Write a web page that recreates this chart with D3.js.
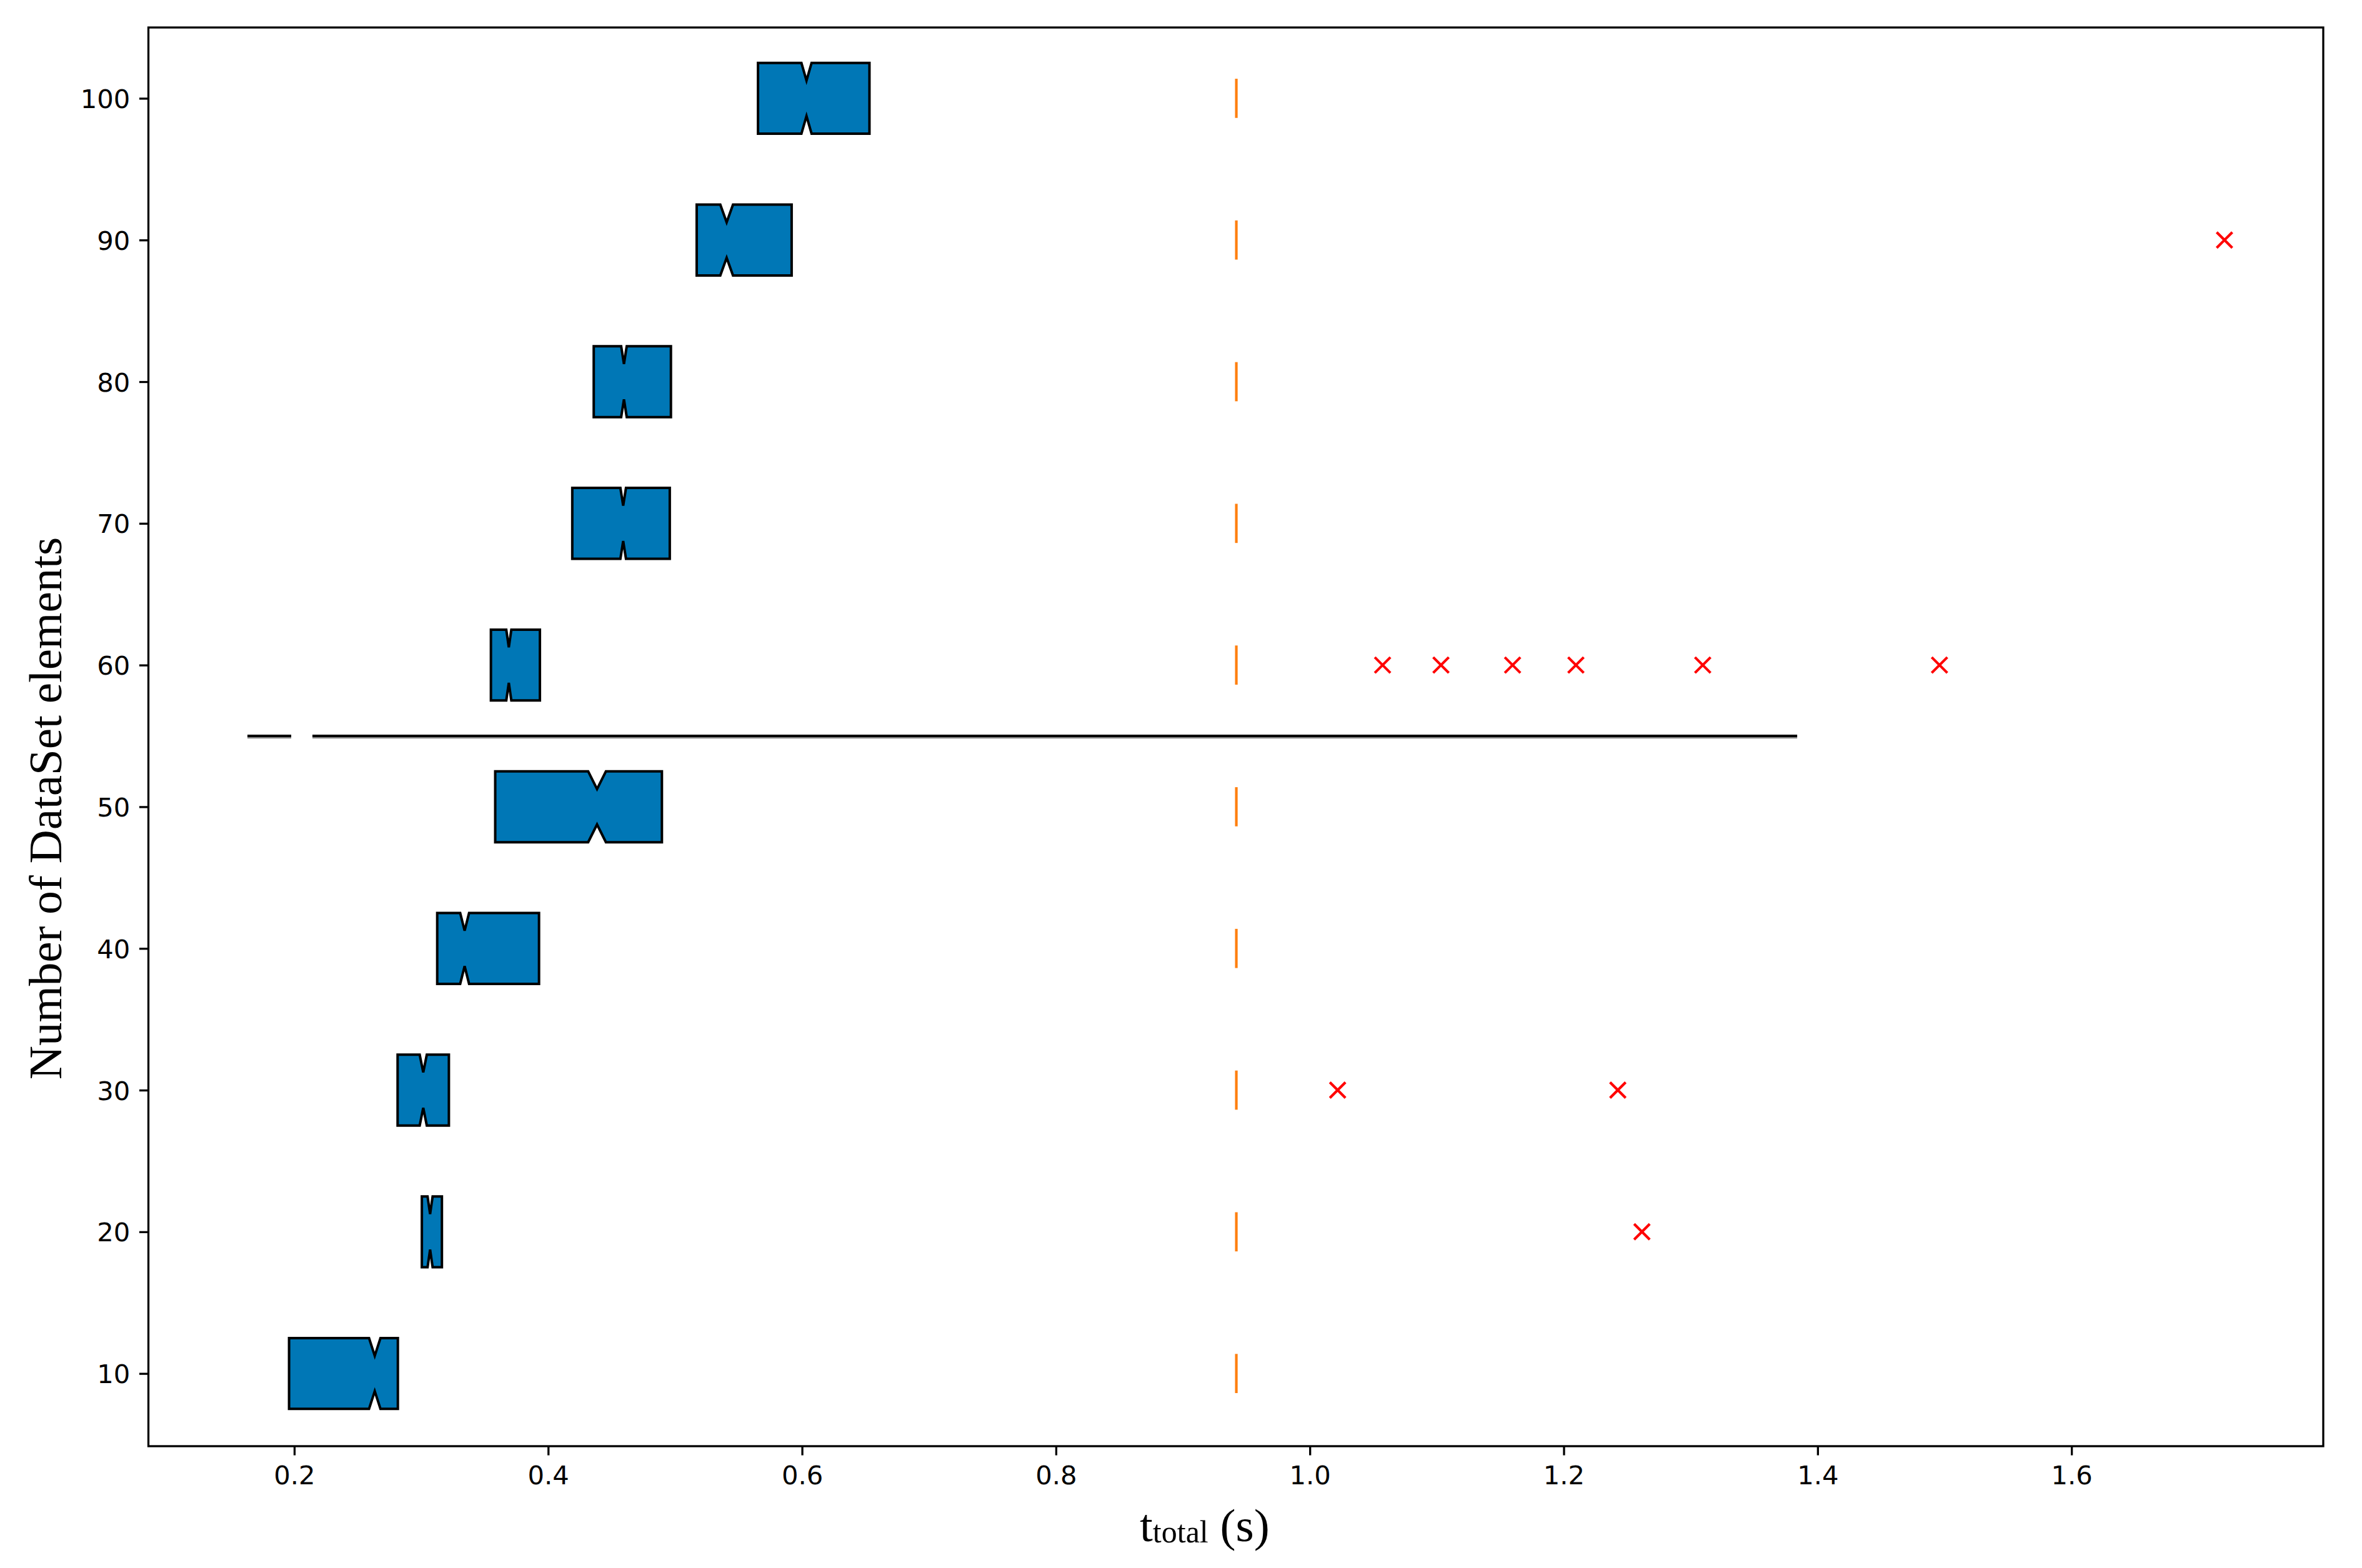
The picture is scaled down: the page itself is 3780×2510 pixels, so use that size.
<!DOCTYPE html>
<html>
<head>
<meta charset="utf-8">
<script src="https://cdn.jsdelivr.net/npm/d3@7"></script>
<style>
  html, body { margin: 0; padding: 0; background: #fff; }
  svg { display: block; }
</style>
</head>
<body>
<script>
// ---- data ----
const positions = [10, 20, 30, 40, 50, 60, 70, 80, 90, 100];
const q1Values  = [0.1959, 0.3005, 0.2814, 0.3126, 0.3583, 0.3549, 0.4190, 0.4359, 0.5170, 0.5653];
const medValues = [0.2634, 0.3070, 0.3016, 0.3342, 0.4385, 0.3690, 0.4591, 0.4597, 0.5406, 0.6035];
const q3Values  = [0.2816, 0.3163, 0.3218, 0.3928, 0.4896, 0.3935, 0.4958, 0.4967, 0.5918, 0.6531];
const notchHalf = [0.0045, 0.0020, 0.0028, 0.0035, 0.0070, 0.0020, 0.0022, 0.0022, 0.0050, 0.0040];
const medianLineX = [0.9421, 0.9421, 0.9421, 0.9421, 0.9421, 0.9421, 0.9421, 0.9421, 0.9421, 0.9421];

const outlierX = [1.2616, 1.0219, 1.2426, 1.0573, 1.1033, 1.1597, 1.2096, 1.3095, 1.4960, 1.7205];
const outlierY = [20, 30, 30, 60, 60, 60, 60, 60, 60, 90];

const hLineStart = [0.1631, 0.2143];
const hLineEnd   = [0.1976, 1.3839];
const hLineY     = [55, 55];

const xTicks = [0.2, 0.4, 0.6, 0.8, 1.0, 1.2, 1.4, 1.6];
const yTicks = [10, 20, 30, 40, 50, 60, 70, 80, 90, 100];
const boxWidth = 5;

// ---- layout ----
const W = 3780, H = 2510;
const plot = { left: 237.5, right: 3718, top: 44, bottom: 2315 };

const svg = d3.select("body").append("svg")
  .attr("width", W).attr("height", H)
  .attr("viewBox", `0 0 ${W} ${H}`);
svg.append("rect").attr("width", W).attr("height", H).attr("fill", "#fff");

const x = d3.scaleLinear().domain([0.0851, 1.7983]).range([plot.left, plot.right]);
const y = d3.scaleLinear().domain([4.87, 105.0]).range([plot.bottom, plot.top]);

const g = svg.append("g");

// horizontal line at 55
hLineStart.forEach((s, i) => {
  g.append("line")
    .attr("x1", x(s)).attr("x2", x(hLineEnd[i]))
    .attr("y1", y(hLineY[i]) + 3).attr("y2", y(hLineY[i]) + 3)
    .attr("stroke", "#8a8a8a").attr("stroke-width", 2.5);
  g.append("line")
    .attr("x1", x(s)).attr("x2", x(hLineEnd[i]))
    .attr("y1", y(hLineY[i])).attr("y2", y(hLineY[i]))
    .attr("stroke", "#000").attr("stroke-width", 4);
});

// boxes
const boxes = positions.map((p, i) => ({
  pos: p, q1: q1Values[i], med: medValues[i], q3: q3Values[i],
  cilo: medValues[i] - notchHalf[i], cihi: medValues[i] + notchHalf[i], mline: medianLineX[i]
}));

const lineGen = d3.line().x(d => x(d[0])).y(d => y(d[1]));
g.selectAll("path.box").data(boxes).join("path")
  .attr("class", "box")
  .attr("d", b => {
    const lo = b.pos - boxWidth / 2, hi = b.pos + boxWidth / 2;
    const clo = b.pos - boxWidth / 4, chi = b.pos + boxWidth / 4;
    const pts = [
      [b.q1, lo], [b.cilo, lo], [b.med, clo], [b.cihi, lo], [b.q3, lo],
      [b.q3, hi], [b.cihi, hi], [b.med, chi], [b.cilo, hi], [b.q1, hi]
    ];
    return lineGen(pts) + "Z";
  })
  .attr("fill", "#0077b6")
  .attr("stroke", "#000")
  .attr("stroke-width", 4)
  .attr("stroke-linejoin", "miter");

// median lines (orange)
g.selectAll("line.med").data(boxes).join("line")
  .attr("class", "med")
  .attr("x1", b => x(b.mline)).attr("x2", b => x(b.mline))
  .attr("y1", b => y(b.pos - boxWidth / 4) + 3).attr("y2", b => y(b.pos + boxWidth / 4) - 3)
  .attr("stroke", "#ff7f0e").attr("stroke-width", 4.2);

// outliers (red x)
const ms = 12.5;
const outG = g.selectAll("g.out").data(outlierX.map((v, i) => [v, outlierY[i]])).join("g")
  .attr("class", "out")
  .attr("transform", d => `translate(${x(d[0])},${y(d[1])})`);
outG.append("path")
  .attr("d", `M${-ms},${-ms}L${ms},${ms}M${-ms},${ms}L${ms},${-ms}`)
  .attr("stroke", "#ff0000").attr("stroke-width", 4.2).attr("fill", "none");

// axes
const xAxis = d3.axisBottom(x).tickValues(xTicks).tickFormat(d3.format(".1f"))
  .tickSize(14.6).tickPadding(14.6);
const yAxis = d3.axisLeft(y).tickValues(yTicks).tickFormat(d3.format("d"))
  .tickSize(14.6).tickPadding(14.6);

const gx = svg.append("g").attr("transform", `translate(0,${plot.bottom})`).call(xAxis);
const gy = svg.append("g").attr("transform", `translate(${plot.left},0)`).call(yAxis);
[gx, gy].forEach(a => {
  a.select(".domain").remove();
  a.selectAll(".tick line").attr("stroke", "#000").attr("stroke-width", 3.3);
  a.selectAll(".tick text")
    .attr("font-family", "'DejaVu Sans', sans-serif")
    .attr("font-size", 41.7)
    .attr("fill", "#000");
});
gx.selectAll(".tick text").attr("dy", null).attr("y", 61);
gy.selectAll(".tick text").attr("dy", "0.36em");

// frame
svg.append("rect")
  .attr("x", plot.left).attr("y", plot.top)
  .attr("width", plot.right - plot.left).attr("height", plot.bottom - plot.top)
  .attr("fill", "none").attr("stroke", "#000").attr("stroke-width", 3.3);

// axis labels
const xl = svg.append("text")
  .attr("x", 1824).attr("y", 2467)
  .attr("font-family", "'Liberation Serif', 'Times New Roman', serif")
  .attr("fill", "#000");
xl.append("tspan").attr("font-size", 75).text("t");
xl.append("tspan").attr("font-size", 50).attr("dy", 2).text("total");
xl.append("tspan").attr("font-size", 75).attr("dy", -2).text("\u00a0(s)");

svg.append("text")
  .attr("transform", "translate(98,1294) rotate(-90)")
  .attr("text-anchor", "middle")
  .attr("font-family", "'Liberation Serif', 'Times New Roman', serif")
  .attr("font-size", 75)
  .attr("fill", "#000")
  .text("Number of DataSet elements");
</script>
</body>
</html>
